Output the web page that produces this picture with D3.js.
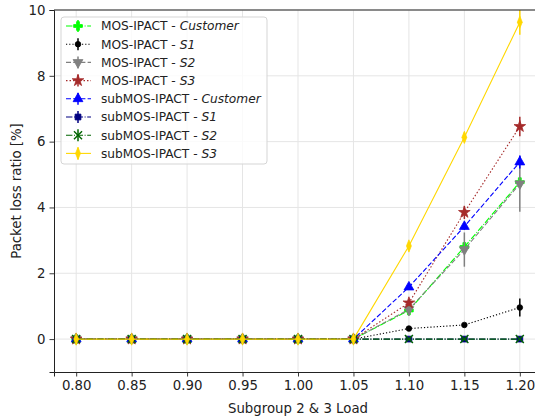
<!DOCTYPE html>
<html>
<head>
<meta charset="utf-8">
<script src="https://cdn.jsdelivr.net/npm/d3@7"></script>
<style>
  body { margin: 0; background: white; }
  svg { font-family: "DejaVu Sans", sans-serif; }
</style>
</head>
<body>
<div id="graph"></div>
<script>
// x values (subgroup 2 & 3 load)
const loads = [0.80, 0.85, 0.90, 0.95, 1.00, 1.05, 1.10, 1.15, 1.20];
const xTicks = ["0.80", "0.85", "0.90", "0.95", "1.00", "1.05", "1.10", "1.15", "1.20"];
const yTicks = [0, 2, 4, 6, 8, 10];

// packet loss ratio [%] per series
const mosCustomer = [0, 0, 0, 0, 0, 0, 0.87, 2.80, 4.77];
const mosS1 = [0, 0, 0, 0, 0, 0, 0.32, 0.43, 0.96];
const mosS2 = [0, 0, 0, 0, 0, 0, 0.90, 2.72, 4.72];
const mosS3 = [0, 0, 0, 0, 0, 0, 1.10, 3.85, 6.46];
const subCustomer = [0, 0, 0, 0, 0, 0, 1.58, 3.42, 5.38];
const subS1 = [0, 0, 0, 0, 0, 0, 0, 0, 0];
const subS2 = [0, 0, 0, 0, 0, 0, 0, 0, 0];
const subS3 = [0, 0, 0, 0, 0, 0, 2.83, 6.13, 9.63];

// error bar half-heights
const mosCustomerErr = [0, 0, 0, 0, 0, 0, 0.08, 0.1, 0.15];
const mosS1Err = [0, 0, 0, 0, 0, 0, 0.03, 0.05, 0.27];
const mosS2Err = [0, 0, 0, 0, 0, 0, 0.2, 0.52, 0.85];
const mosS3Err = [0, 0, 0, 0, 0, 0, 0.1, 0.2, 0.3];
const subCustomerErr = [0, 0, 0, 0, 0, 0, 0.05, 0.1, 0.2];
const subS1Err = [0, 0, 0, 0, 0, 0, 0, 0, 0];
const subS2Err = [0, 0, 0, 0, 0, 0, 0, 0, 0];
const subS3Err = [0, 0, 0, 0, 0, 0, 0.1, 0.15, 0.38];

const seriesNames = [
  ["MOS-IPACT - ", "Customer"],
  ["MOS-IPACT - ", "S1"],
  ["MOS-IPACT - ", "S2"],
  ["MOS-IPACT - ", "S3"],
  ["subMOS-IPACT - ", "Customer"],
  ["subMOS-IPACT - ", "S1"],
  ["subMOS-IPACT - ", "S2"],
  ["subMOS-IPACT - ", "S3"]
];
const seriesValues = [mosCustomer, mosS1, mosS2, mosS3, subCustomer, subS1, subS2, subS3];
const seriesErrs = [mosCustomerErr, mosS1Err, mosS2Err, mosS3Err, subCustomerErr, subS1Err, subS2Err, subS3Err];

// look of each series: color, dash, marker
const styles = [
  { color: "#00ff00", dash: "6.4,1.6,1,1.6", marker: "plus" },
  { color: "black", dash: "1.2,2", marker: "dot" },
  { color: "gray", dash: "5,2.2", marker: "tridown" },
  { color: "#a52a2a", dash: "1.5,2", marker: "star" },
  { color: "blue", dash: "5,2.2", marker: "triup" },
  { color: "navy", dash: "6.4,1.6,1,1.6", marker: "square" },
  { color: "darkgreen", dash: "6.4,1.6,1,1.6", marker: "x" },
  { color: "#ffd700", dash: null, marker: "diamond" }
];

const marker = (g, type, color) => {
  let p;
  if (type == "dot") {
    p = g.append("circle").attr("r", 2.8);
  } else if (type == "plus") {
    p = g.append("path").attr("d", d3.symbol(d3.symbolCross, 42)());
  } else if (type == "tridown") {
    p = g.append("path").attr("d", d3.symbol(d3.symbolTriangle, 42)()).attr("transform", "rotate(180)");
  } else if (type == "triup") {
    p = g.append("path").attr("d", d3.symbol(d3.symbolTriangle, 42)());
  } else if (type == "star") {
    p = g.append("path").attr("d", d3.symbol(d3.symbolStar, 42)());
  } else if (type == "square") {
    p = g.append("path").attr("d", d3.symbol(d3.symbolSquare, 34)());
  } else if (type == "x") {
    g.append("path").attr("d", d3.symbol(d3.symbolTimes, 44)())
      .attr("fill", "none").attr("stroke", color).attr("stroke-width", 1.4);
    return;
  } else {
    // thin diamond
    p = g.append("path").attr("d", d3.symbol(d3.symbolDiamond, 44)()).attr("transform", "scale(0.7,1)");
  }
  p.attr("fill", color).attr("stroke", color).attr("stroke-width", 0.8);
};

const draw = () => {
  const W = 535, H = 420;
  const left = 54, top = 10, bottom = 372, right = 542;

  const svg = d3.select("#graph").append("svg")
    .attr("width", W).attr("height", H);

  const x = d3.scaleLinear().domain([0.78, 1.22]).range([left, right]);
  const y = d3.scaleLinear().domain([-1, 10]).range([bottom, top]);

  // grid
  svg.append("g").selectAll("line").data(loads).enter().append("line")
    .attr("x1", d => x(d)).attr("x2", d => x(d))
    .attr("y1", top).attr("y2", bottom)
    .attr("stroke", "#e5e5e5").attr("stroke-width", 1);
  svg.append("g").selectAll("line").data(yTicks).enter().append("line")
    .attr("x1", left).attr("x2", right)
    .attr("y1", d => y(d)).attr("y2", d => y(d))
    .attr("stroke", "#e5e5e5").attr("stroke-width", 1);

  svg.append("defs").append("clipPath").attr("id", "clip")
    .append("rect").attr("x", left).attr("y", top)
    .attr("width", right - left).attr("height", bottom - top);

  const plot = svg.append("g").attr("clip-path", "url(#clip)");

  seriesValues.forEach((vals, i) => {
    const st = styles[i];
    const pts = vals.map((v, j) => ({ x: loads[j], y: v, e: seriesErrs[i][j] }));
    const g = plot.append("g");
    g.append("path").datum(pts)
      .attr("fill", "none")
      .attr("stroke", st.color)
      .attr("stroke-width", 1.1)
      .attr("stroke-dasharray", st.dash)
      .attr("d", d3.line().x(d => x(d.x)).y(d => y(d.y)));
    g.selectAll(".err").data(pts.filter(d => d.e > 0)).enter().append("line")
      .attr("x1", d => x(d.x)).attr("x2", d => x(d.x))
      .attr("y1", d => y(d.y - d.e)).attr("y2", d => y(d.y + d.e))
      .attr("stroke", st.color).attr("stroke-width", 1.5);
    pts.forEach(d => {
      const m = g.append("g").attr("transform", `translate(${x(d.x)},${y(d.y)})`);
      marker(m, st.marker, st.color);
    });
  });

  // axes
  const xAxis = svg.append("g")
    .attr("transform", `translate(0,${bottom})`)
    .call(d3.axisBottom(x).tickValues(loads).tickFormat((d, i) => xTicks[i]).tickSizeOuter(0).tickSize(4.5).tickPadding(4));
  const yAxis = svg.append("g")
    .attr("transform", `translate(${left},0)`)
    .call(d3.axisLeft(y).tickValues(yTicks).tickSizeOuter(0).tickSize(4.5).tickPadding(4));
  [xAxis, yAxis].forEach(a => {
    a.selectAll("text").attr("font-size", "13.3px").attr("font-family", "DejaVu Sans").attr("fill", "#222");
    a.selectAll("line").attr("stroke", "#222").attr("stroke-width", 0.9);
    a.select(".domain").attr("stroke", "#222").attr("stroke-width", 1);
  });
  // top spine
  svg.append("line").attr("x1", left).attr("x2", right).attr("y1", top).attr("y2", top)
    .attr("stroke", "#222").attr("stroke-width", 1);

  svg.append("text").attr("x", (left + right) / 2).attr("y", 413)
    .attr("text-anchor", "middle").attr("font-size", "13.3px").attr("fill", "#222")
    .text("Subgroup 2 & 3 Load");
  svg.append("text").attr("transform", `translate(21,${(top + bottom) / 2}) rotate(-90)`)
    .attr("text-anchor", "middle").attr("font-size", "13.3px").attr("fill", "#222")
    .text("Packet loss ratio [%]");

  // legend
  const lx = 61, ly = 17, rowH = 18.2;
  const legend = svg.append("g").attr("id", "legend");
  legend.append("rect")
    .attr("x", lx).attr("y", ly).attr("width", 206).attr("height", 147)
    .attr("rx", 3).attr("fill", "white").attr("fill-opacity", 0.8)
    .attr("stroke", "#d5d5d5").attr("stroke-width", 1);
  seriesNames.forEach((nm, i) => {
    const st = styles[i];
    const cy = ly + 9 + rowH * i;
    legend.append("line").attr("x1", lx + 5).attr("x2", lx + 30)
      .attr("y1", cy).attr("y2", cy)
      .attr("stroke", st.color).attr("stroke-width", 1.1)
      .attr("stroke-dasharray", st.dash);
    legend.append("line").attr("x1", lx + 17).attr("x2", lx + 17)
      .attr("y1", cy - 6).attr("y2", cy + 6)
      .attr("stroke", st.color).attr("stroke-width", 1.5);
    marker(legend.append("g").attr("transform", `translate(${lx + 17},${cy})`), st.marker, st.color);
    const t = legend.append("text").attr("x", lx + 40).attr("y", cy)
      .attr("dy", "0.36em").attr("font-size", "12.2px").attr("fill", "#222");
    t.append("tspan").text(nm[0]);
    t.append("tspan").attr("font-style", "italic").text(nm[1]);
  });
};

window.addEventListener("DOMContentLoaded", evt => {
  draw();
});
</script>
</body>
</html>
